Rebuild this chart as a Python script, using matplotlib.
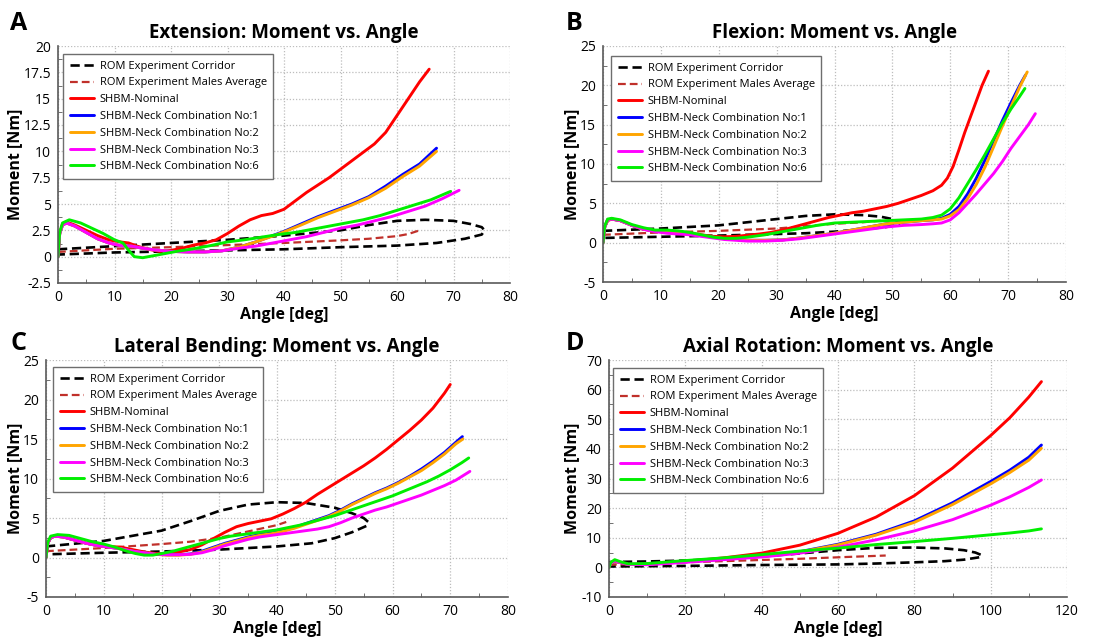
import matplotlib
matplotlib.use("Agg")
import matplotlib.pyplot as plt
from matplotlib.ticker import MultipleLocator, FuncFormatter

plt.rcParams['font.family'] = ['Open Sans', 'DejaVu Sans']

# ---------------- Labels ----------------
legend_labels = ["ROM Experiment Corridor", "ROM Experiment Males Average",
                 "SHBM-Nominal", "SHBM-Neck Combination No:1",
                 "SHBM-Neck Combination No:2", "SHBM-Neck Combination No:3",
                 "SHBM-Neck Combination No:6"]
titles = ["Extension: Moment vs. Angle", "Flexion: Moment vs. Angle",
          "Lateral Bending: Moment vs. Angle", "Axial Rotation: Moment vs. Angle"]
panel_letters = ["A", "B", "C", "D"]
xlabel = "Angle [deg]"
ylabel = "Moment [Nm]"

# ---------------- A: Extension ----------------
ext_cor_x = [0, 10, 20, 30, 40, 50, 55, 60, 65, 70, 73, 75, 75.5, 75, 72, 67, 60, 50, 40, 30, 20, 10, 0]
ext_cor_y = [0.7, 1.0, 1.3, 1.6, 2.0, 2.5, 3.0, 3.4, 3.5, 3.4, 3.1, 2.8, 2.5, 2.1, 1.7, 1.3, 1.05, 0.9, 0.7, 0.6, 0.5, 0.4, 0.2]
ext_avg_x = [0, 10, 20, 30, 40, 50, 55, 60, 62, 64]
ext_avg_y = [0.45, 0.75, 0.9, 1.1, 1.3, 1.55, 1.7, 1.95, 2.15, 2.5]
ext_nom_x = [0, 0.3, 0.8, 1.5, 3, 5, 7, 9, 11, 12.5, 14, 16, 18, 20, 22, 24, 26, 28, 30, 32, 34, 36, 38, 40, 42, 44, 46, 48, 50, 52, 54, 56, 58, 60, 62, 64, 65.7]
ext_nom_y = [0, 2.2, 3.1, 3.3, 3.0, 2.5, 2.0, 1.6, 1.4, 1.3, 1.0, 0.7, 0.5, 0.6, 0.8, 1.1, 1.3, 1.6, 2.2, 2.9, 3.5, 3.9, 4.1, 4.5, 5.3, 6.1, 6.8, 7.5, 8.3, 9.1, 9.9, 10.7, 11.8, 13.4, 15.0, 16.6, 17.8]
ext_c1_x = [0, 0.3, 0.8, 1.5, 3, 5, 7, 9, 11, 13, 15, 17, 20, 23, 26, 29, 32, 35, 38, 40, 43, 46, 49, 52, 55, 58, 61, 64, 67]
ext_c1_y = [0, 2.2, 3.0, 3.2, 2.9, 2.3, 1.7, 1.3, 1.05, 1.0, 0.8, 0.65, 0.5, 0.45, 0.45, 0.55, 0.9, 1.4, 2.0, 2.4, 3.1, 3.8, 4.4, 5.0, 5.7, 6.7, 7.8, 8.8, 10.3]
ext_c2_x = [0, 0.3, 0.8, 1.5, 3, 5, 7, 9, 11, 13, 15, 17, 20, 23, 26, 29, 32, 35, 38, 40, 43, 46, 49, 52, 55, 58, 61, 64, 67]
ext_c2_y = [0, 2.2, 3.0, 3.2, 2.9, 2.3, 1.7, 1.3, 1.05, 1.0, 0.8, 0.65, 0.5, 0.45, 0.45, 0.55, 0.9, 1.4, 1.95, 2.35, 3.0, 3.7, 4.3, 4.9, 5.6, 6.5, 7.6, 8.6, 10.0]
ext_c3_x = [0, 0.3, 0.8, 1.5, 3, 5, 7, 9, 11, 13, 15, 17, 20, 23, 26, 29, 32, 35, 38, 41, 44, 47, 50, 53, 56, 59, 62, 65, 68, 71]
ext_c3_y = [0, 2.2, 3.0, 3.2, 2.9, 2.3, 1.7, 1.3, 1.05, 1.0, 0.8, 0.65, 0.5, 0.45, 0.45, 0.55, 0.8, 1.0, 1.3, 1.6, 1.9, 2.3, 2.7, 3.0, 3.4, 3.8, 4.3, 4.8, 5.5, 6.3]
ext_c6_x = [0, 0.3, 0.8, 2, 4, 6, 8, 10, 11.5, 12.5, 13.5, 15, 17, 19, 21, 24, 27, 30, 33, 36, 39, 42, 45, 48, 51, 54, 57, 60, 63, 66, 69.5]
ext_c6_y = [0, 2.3, 3.2, 3.5, 3.2, 2.7, 2.2, 1.6, 1.3, 0.6, 0.0, -0.1, 0.1, 0.3, 0.5, 0.75, 1.05, 1.4, 1.6, 1.85, 2.1, 2.3, 2.6, 2.9, 3.2, 3.5, 3.9, 4.4, 4.9, 5.4, 6.2]

# ---------------- B: Flexion ----------------
flx_cor_x = [0, 10, 20, 25, 30, 35, 40, 45, 48, 50, 51.5, 51, 49, 45, 40, 35, 30, 20, 10, 0]
flx_cor_y = [1.5, 1.8, 2.2, 2.6, 3.0, 3.4, 3.6, 3.5, 3.3, 3.0, 2.6, 2.3, 2.0, 1.7, 1.4, 1.2, 1.1, 0.9, 0.75, 0.6]
flx_avg_x = [0, 10, 20, 30, 35, 40, 45, 48]
flx_avg_y = [1.0, 1.3, 1.5, 1.8, 2.1, 2.4, 2.6, 2.8]
flx_nom_x = [0, 0.3, 0.8, 1.5, 3, 5, 7, 9, 11, 13, 15, 17, 19, 21, 23, 25, 27, 29, 31, 33, 35, 37, 39, 41, 43, 45, 47, 49, 51, 53, 55, 57, 58.5, 59.5, 60.5, 61.5, 62.5, 63.5, 64.5, 65.5, 66.6]
flx_nom_y = [0, 2.0, 2.8, 3.0, 2.8, 2.2, 1.7, 1.5, 1.4, 1.4, 1.2, 1.0, 0.8, 0.75, 0.8, 0.95, 1.1, 1.3, 1.6, 2.0, 2.4, 2.8, 3.2, 3.5, 3.8, 4.0, 4.3, 4.6, 5.0, 5.5, 6.0, 6.6, 7.3, 8.2, 9.7, 11.8, 14.0, 16.0, 18.0, 20.0, 21.8]
flx_c1_x = [0, 0.3, 0.8, 1.5, 3, 5, 7, 9, 11, 13, 15, 17, 19, 21, 23, 25, 28, 31, 34, 37, 40, 43, 46, 49, 52, 55, 57, 58.5, 60, 61.5, 63, 64.5, 66, 67.5, 69, 70.5, 72, 73]
flx_c1_y = [0, 2.0, 2.9, 3.0, 2.8, 2.2, 1.7, 1.5, 1.4, 1.3, 1.1, 0.9, 0.7, 0.5, 0.4, 0.3, 0.3, 0.35, 0.6, 0.9, 1.2, 1.6, 2.0, 2.4, 2.6, 2.8, 2.9, 3.1, 3.6, 4.6, 6.2, 8.2, 10.5, 13.0, 15.5, 17.8, 20.0, 21.3]
flx_c2_x = [0, 0.3, 0.8, 1.5, 3, 5, 7, 9, 11, 13, 15, 17, 19, 21, 23, 25, 28, 31, 34, 37, 40, 43, 46, 49, 52, 55, 57, 58.5, 60, 61.5, 63, 64.5, 66, 67.5, 69, 70.5, 72, 73.3]
flx_c2_y = [0, 2.0, 2.9, 3.0, 2.8, 2.2, 1.7, 1.5, 1.4, 1.3, 1.1, 0.9, 0.7, 0.5, 0.4, 0.3, 0.3, 0.35, 0.6, 0.9, 1.2, 1.6, 2.0, 2.4, 2.6, 2.8, 2.9, 3.0, 3.4, 4.2, 5.6, 7.4, 9.6, 12.2, 14.8, 17.3, 19.8, 21.7]
flx_c3_x = [0, 0.3, 0.8, 1.5, 3, 5, 7, 9, 11, 13, 15, 17, 19, 21, 23, 25, 28, 31, 34, 37, 40, 43, 46, 49, 52, 55, 57, 58.5, 60, 61.5, 63, 64.5, 66, 67.5, 69, 70.5, 72, 73.5, 74.7]
flx_c3_y = [0, 2.0, 2.9, 3.0, 2.8, 2.2, 1.7, 1.4, 1.2, 1.1, 1.0, 0.8, 0.6, 0.4, 0.3, 0.2, 0.2, 0.3, 0.5, 0.8, 1.1, 1.4, 1.7, 2.0, 2.2, 2.3, 2.4, 2.5, 2.9, 3.8, 5.0, 6.2, 7.5, 8.8, 10.3, 12.0, 13.5, 15.0, 16.4]
flx_c6_x = [0, 0.3, 0.8, 1.5, 3, 5, 7, 9, 11, 13, 15, 17, 19, 21, 23, 25, 28, 31, 34, 37, 40, 43, 46, 49, 52, 55, 57, 58.5, 60, 61.5, 63, 64.5, 66, 67.5, 69, 70.5, 72, 72.9]
flx_c6_y = [0, 2.1, 3.0, 3.1, 2.9, 2.3, 1.9, 1.6, 1.6, 1.5, 1.3, 1.0, 0.7, 0.55, 0.55, 0.7, 1.0, 1.4, 1.8, 2.2, 2.5, 2.6, 2.7, 2.8, 2.9, 3.0, 3.2, 3.5, 4.3, 5.7, 7.5, 9.3, 11.2, 13.2, 15.2, 17.0, 18.6, 19.6]

# ---------------- C: Lateral Bending ----------------
lat_cor_x = [0, 10, 20, 25, 30, 35, 40, 45, 50, 53, 55, 55.8, 55.5, 53, 50, 46, 40, 30, 20, 10, 0]
lat_cor_y = [1.4, 2.1, 3.4, 4.6, 5.9, 6.7, 7.0, 6.9, 6.3, 5.6, 5.0, 4.5, 4.0, 3.2, 2.45, 1.8, 1.4, 1.0, 0.76, 0.6, 0.4]
lat_avg_x = [0, 10, 20, 25, 30, 35, 40, 41.6]
lat_avg_y = [0.8, 1.2, 1.7, 2.0, 2.5, 3.3, 4.1, 4.5]
lat_nom_x = [0, 0.3, 0.8, 1.5, 3, 5, 7, 9, 11, 13, 15, 17, 19, 21, 23, 25, 27, 29, 31, 33, 35, 37, 39, 41, 43, 45, 47, 49, 51, 53, 55, 57, 59, 61, 63, 65, 67, 69, 70]
lat_nom_y = [0, 1.8, 2.5, 2.7, 2.6, 2.2, 1.8, 1.5, 1.4, 1.3, 1.0, 0.7, 0.5, 0.5, 0.7, 1.0, 1.6, 2.4, 3.2, 3.9, 4.3, 4.6, 4.9, 5.5, 6.2, 7.0, 8.0, 8.9, 9.8, 10.7, 11.6, 12.6, 13.7, 14.9, 16.1, 17.4, 18.9, 20.8, 21.9]
lat_c1_x = [0, 0.3, 0.8, 1.5, 3, 5, 7, 9, 11, 13, 15, 17, 19, 21, 23, 25, 27, 29, 31, 33, 35, 37, 39, 41, 43, 45, 47, 49, 51, 53, 55, 57, 59, 61, 63, 65, 67, 69, 71, 72.1]
lat_c1_y = [0, 1.8, 2.5, 2.7, 2.6, 2.2, 1.8, 1.5, 1.3, 1.1, 0.8, 0.6, 0.4, 0.35, 0.35, 0.45, 0.8, 1.3, 1.8, 2.2, 2.6, 2.9, 3.1, 3.4, 3.8, 4.3, 4.8, 5.3, 6.0, 6.8, 7.5, 8.2, 8.8, 9.5, 10.3, 11.2, 12.2, 13.3, 14.6, 15.3]
lat_c2_x = [0, 0.3, 0.8, 1.5, 3, 5, 7, 9, 11, 13, 15, 17, 19, 21, 23, 25, 27, 29, 31, 33, 35, 37, 39, 41, 43, 45, 47, 49, 51, 53, 55, 57, 59, 61, 63, 65, 67, 69, 71, 72.2]
lat_c2_y = [0, 1.8, 2.5, 2.7, 2.6, 2.2, 1.8, 1.5, 1.3, 1.1, 0.8, 0.6, 0.4, 0.3, 0.3, 0.4, 0.7, 1.2, 1.7, 2.1, 2.5, 2.8, 3.0, 3.3, 3.7, 4.2, 4.7, 5.2, 5.9, 6.7, 7.4, 8.1, 8.7, 9.4, 10.2, 11.0, 12.0, 13.1, 14.4, 15.0]
lat_c3_x = [0, 0.3, 0.8, 1.5, 3, 5, 7, 9, 11, 13, 15, 17, 19, 21, 23, 25, 27, 29, 31, 33, 35, 37, 39, 41, 43, 45, 47, 49, 51, 53, 55, 57, 59, 61, 63, 65, 67, 69, 71, 73.4]
lat_c3_y = [0, 1.8, 2.5, 2.7, 2.6, 2.2, 1.8, 1.5, 1.3, 1.1, 0.8, 0.6, 0.4, 0.35, 0.35, 0.4, 0.6, 1.0, 1.5, 1.9, 2.3, 2.6, 2.8, 3.0, 3.2, 3.4, 3.6, 3.9, 4.4, 5.0, 5.5, 6.0, 6.4, 6.9, 7.4, 7.9, 8.5, 9.1, 9.8, 10.9]
lat_c6_x = [0, 0.3, 0.8, 2, 4, 6, 8, 10, 12, 14, 15.5, 17, 18.5, 20, 22, 24, 26, 28, 30, 32, 34, 36, 38, 40, 42, 44, 46, 48, 50, 52, 54, 56, 58, 60, 62, 64, 66, 68, 70, 72, 73.2]
lat_c6_y = [0, 1.9, 2.7, 2.9, 2.8, 2.4, 2.0, 1.7, 1.3, 0.8, 0.5, 0.3, 0.3, 0.5, 0.8, 1.2, 1.6, 2.0, 2.4, 2.7, 2.9, 3.1, 3.3, 3.5, 3.8, 4.1, 4.5, 4.9, 5.3, 5.8, 6.3, 6.8, 7.3, 7.8, 8.4, 9.0, 9.6, 10.3, 11.1, 12.0, 12.6]

# ---------------- D: Axial Rotation ----------------
axr_cor_x = [0, 10, 20, 30, 40, 50, 60, 70, 80, 88, 93, 96, 97.7, 97, 93, 88, 80, 70, 60, 40, 20, 0]
axr_cor_y = [1.8, 2.0, 2.3, 2.9, 3.7, 4.7, 5.8, 6.6, 6.7, 6.4, 5.8, 5.0, 4.1, 3.4, 2.6, 2.1, 1.7, 1.3, 1.0, 0.8, 0.5, 0.3]
axr_avg_x = [0, 10, 20, 30, 40, 50, 60, 72.5]
axr_avg_y = [0.9, 1.3, 1.7, 2.1, 2.5, 2.9, 3.4, 4.0]
axr_x = [0, 0.5, 1.5, 3, 5, 10, 20, 30, 40, 50, 60, 70, 80, 90, 100, 105, 110, 113.3]
axr_nom_y = [0, 1.5, 2.2, 1.6, 1.0, 1.0, 2.0, 3.2, 4.8, 7.5, 11.5, 17.0, 24.2, 33.5, 44.5, 50.5, 57.5, 62.7]
axr_c1_y = [0, 1.5, 2.2, 1.6, 1.0, 1.0, 1.9, 2.8, 3.8, 5.3, 7.8, 11.2, 15.7, 21.8, 29.0, 32.8, 37.2, 41.3]
axr_c2_y = [0, 1.5, 2.2, 1.6, 1.0, 1.0, 1.9, 2.8, 3.7, 5.2, 7.6, 10.9, 15.2, 21.2, 28.2, 32.0, 36.2, 40.2]
axr_c3_y = [0, 1.5, 2.2, 1.6, 1.0, 0.9, 1.7, 2.6, 3.5, 4.8, 6.8, 9.3, 12.3, 16.1, 21.0, 23.8, 27.0, 29.5]
axr_c6_y = [0, 1.7, 2.6, 1.9, 1.2, 1.3, 2.3, 3.2, 4.3, 5.5, 6.5, 7.7, 8.7, 9.8, 11.0, 11.6, 12.3, 13.0]

# ---------------- Styles ----------------
col_cor = "black"
col_avg = "#c0302a"
colors = ["#ff0000", "#0000ff", "#ffa500", "#ff00ff", "#00ee00"]

W, H = 1120, 642
fig = plt.figure(figsize=(W / 100, H / 100), dpi=100)


def px_axes(left, right, top, bottom):
    return fig.add_axes([left / W, 1 - bottom / H, (right - left) / W, (bottom - top) / H])


fmt = FuncFormatter(lambda v, pos: "%g" % round(v, 6))

panels = [
    dict(box=(58, 510, 46, 283), xlim=(0, 80), ylim=(-2.5, 20), xmaj=10, ymaj=2.5,
         cor=(ext_cor_x, ext_cor_y), avg=(ext_avg_x, ext_avg_y),
         sims=[(ext_nom_x, ext_nom_y), (ext_c1_x, ext_c1_y), (ext_c2_x, ext_c2_y),
               (ext_c3_x, ext_c3_y), (ext_c6_x, ext_c6_y)],
         leg=(5, 8), letter=(10, 11), ylab_r=23),
    dict(box=(603, 1066, 46, 282), xlim=(0, 80), ylim=(-5, 25), xmaj=10, ymaj=5,
         cor=(flx_cor_x, flx_cor_y), avg=(flx_avg_x, flx_avg_y),
         sims=[(flx_nom_x, flx_nom_y), (flx_c1_x, flx_c1_y), (flx_c2_x, flx_c2_y),
               (flx_c3_x, flx_c3_y), (flx_c6_x, flx_c6_y)],
         leg=(8, 10), letter=(566, 11), ylab_r=580),
    dict(box=(46, 508, 360, 597), xlim=(0, 80), ylim=(-5, 25), xmaj=10, ymaj=5,
         cor=(lat_cor_x, lat_cor_y), avg=(lat_avg_x, lat_avg_y),
         sims=[(lat_nom_x, lat_nom_y), (lat_c1_x, lat_c1_y), (lat_c2_x, lat_c2_y),
               (lat_c3_x, lat_c3_y), (lat_c6_x, lat_c6_y)],
         leg=(7, 7), letter=(10, 331), ylab_r=23),
    dict(box=(609, 1067, 360, 597), xlim=(0, 120), ylim=(-10, 70), xmaj=20, ymaj=10,
         cor=(axr_cor_x, axr_cor_y), avg=(axr_avg_x, axr_avg_y),
         sims=[(axr_x, axr_nom_y), (axr_x, axr_c1_y), (axr_x, axr_c2_y),
               (axr_x, axr_c3_y), (axr_x, axr_c6_y)],
         leg=(4, 8), letter=(566, 331), ylab_r=580),
]

for i, p in enumerate(panels):
    l, r, t, b = p["box"]
    ax = px_axes(l, r, t, b)
    aw, ah = r - l, b - t
    ax.set_xlim(*p["xlim"])
    ax.set_ylim(*p["ylim"])
    ax.xaxis.set_major_locator(MultipleLocator(p["xmaj"]))
    ax.yaxis.set_major_locator(MultipleLocator(p["ymaj"]))
    ax.xaxis.set_minor_locator(MultipleLocator(p["xmaj"] / 2))
    ax.yaxis.set_minor_locator(MultipleLocator(p["ymaj"] / 2))
    ax.xaxis.set_major_formatter(fmt)
    ax.yaxis.set_major_formatter(fmt)
    ax.grid(True, which="major", color="#bdbdbd", linestyle=(0, (1, 1.5)), linewidth=0.9)
    for s in ["top", "right"]:
        ax.spines[s].set_visible(False)
    for s in ["left", "bottom"]:
        ax.spines[s].set_color("#5a5a5a")
        ax.spines[s].set_linewidth(1.2)
    ax.tick_params(which="both", direction="in", colors="#5a5a5a", labelcolor="black",
                   labelsize=10, top=False, right=False)
    ax.tick_params(which="major", length=0, pad=5)
    ax.tick_params(which="minor", length=3)

    h_cor, = ax.plot(p["cor"][0], p["cor"][1], color=col_cor, lw=1.9, ls=(0, (3.5, 1.8)))
    h_avg, = ax.plot(p["avg"][0], p["avg"][1], color=col_avg, lw=1.6, ls=(0, (3.5, 1.8)))
    hs = [h_cor, h_avg]
    for (sx, sy), c in zip(p["sims"], colors):
        h, = ax.plot(sx, sy, color=c, lw=2.1, solid_capstyle="round")
        hs.append(h)

    dx, dy = p["leg"]
    leg = ax.legend(hs, legend_labels, loc="upper left",
                    bbox_to_anchor=(dx / aw, 1 - dy / ah), borderaxespad=0,
                    fontsize=8, frameon=True, fancybox=False, framealpha=1,
                    edgecolor="#6e6e6e", handlelength=2.2, handletextpad=0.5,
                    labelspacing=0.52, borderpad=0.6)
    leg.get_frame().set_linewidth(1.0)

    ax.set_title(titles[i], fontsize=13.5, fontweight="bold", pad=6)
    ax.set_xlabel(xlabel, fontsize=11.5, fontweight="bold")
    ax.set_ylabel(ylabel, fontsize=11.5, fontweight="bold")
    ax.xaxis.set_label_coords(0.5, -24 / ah)
    ax.yaxis.set_label_coords(-(l - p["ylab_r"]) / aw, 0.5)

    lx, ly = p["letter"]
    fig.text(lx / W, 1 - ly / H, panel_letters[i], fontsize=18, fontweight="bold",
             ha="left", va="top")

fig.savefig("out.png", dpi=100, facecolor="white")
